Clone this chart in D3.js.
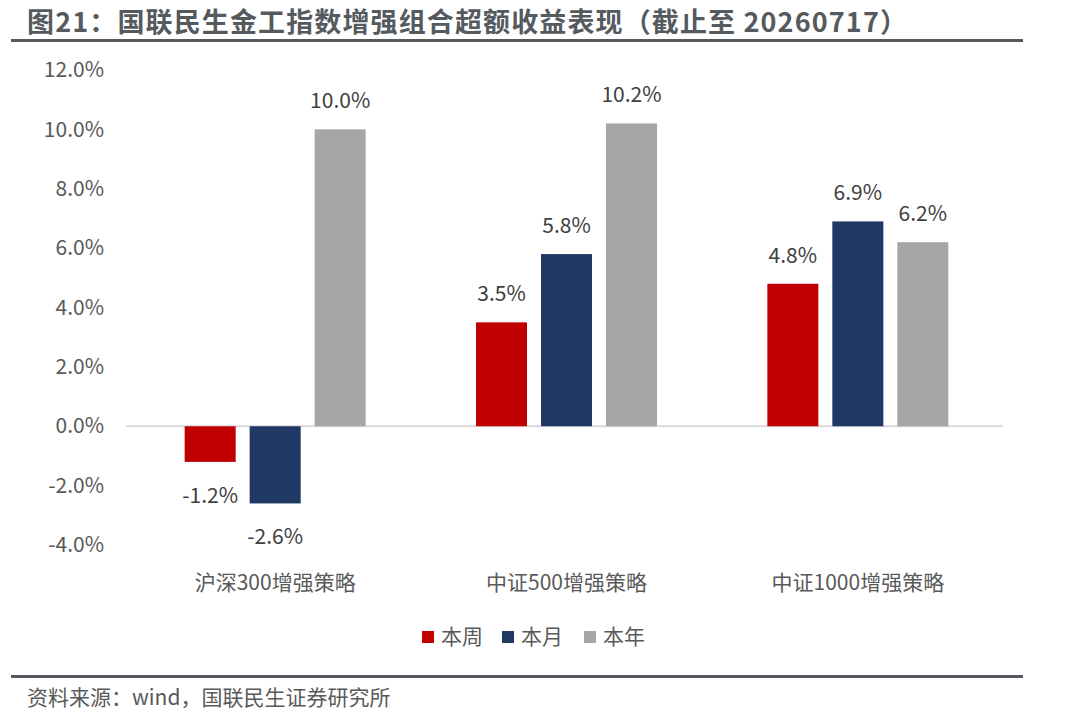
<!DOCTYPE html>
<html>
<head>
<meta charset="utf-8">
<script src="https://cdn.jsdelivr.net/npm/d3@7"></script>
<style>
  html, body { margin: 0; padding: 0; background: #fff; }
  svg text { font-family: "Noto Sans CJK SC", "Noto Sans", sans-serif; }
</style>
</head>
<body>
<div id="chart"></div>
<script>
// 数据
const categories = ['沪深300增强策略', '中证500增强策略', '中证1000增强策略']
const seriesNames = ['本周', '本月', '本年']
const seriesColors = ['#c00000', '#203864', '#a6a6a6']
const weekValues = [-1.2, 3.5, 4.8]
const monthValues = [-2.6, 5.8, 6.9]
const yearValues = [10.0, 10.2, 6.2]
const yTicks = [-4, -2, 0, 2, 4, 6, 8, 10, 12]

const WIDTH = 1080
const HEIGHT = 716

const seriesValues = [weekValues, monthValues, yearValues]

const svg = d3.select('#chart')
  .append('svg')
  .attr('width', WIDTH)
  .attr('height', HEIGHT)

// 标题
svg.append('text')
  .attr('x', 27)
  .attr('y', 32)
  .attr('font-size', 27)
  .attr('font-weight', 'bold')
  .attr('fill', '#555a5f')
  .attr('textLength', 880)
  .attr('lengthAdjust', 'spacing')
  .text('图21：国联民生金工指数增强组合超额收益表现（截止至 20260717）')

svg.append('rect')
  .attr('x', 11).attr('y', 39)
  .attr('width', 1012).attr('height', 3)
  .attr('fill', '#555a60')

// 比例尺
const y = d3.scaleLinear().domain([-4, 12]).range([545, 70])
const x0 = d3.scaleBand().domain(categories).range([129.5, 1003.5]).padding(0)
const groupW = 181
const x1 = d3.scaleBand().domain(seriesNames).range([0, groupW]).paddingInner(0.215)

// y轴标签
const yAxis = d3.axisLeft(y)
  .tickValues(yTicks)
  .tickFormat(d => d.toFixed(1) + '%')
  .tickSize(0)
  .tickPadding(0)

const gy = svg.append('g')
  .attr('transform', 'translate(104,0)')
  .call(yAxis)
gy.select('.domain').remove()
gy.selectAll('text')
  .attr('font-size', 21)
  .attr('fill', '#595959')
  .attr('font-family', '"Noto Sans CJK SC", "Noto Sans", sans-serif')

// 零线
svg.append('line')
  .attr('x1', 126).attr('x2', 1003)
  .attr('y1', y(0)).attr('y2', y(0))
  .attr('stroke', '#d9d9d9')
  .attr('stroke-width', 2)

// 柱子
const rows = []
categories.forEach((c, i) => {
  seriesNames.forEach((s, j) => {
    rows.push({ cat: c, series: s, value: seriesValues[j][i], color: seriesColors[j] })
  })
})

const offset = (x0.bandwidth() - groupW) / 2

const groups = svg.append('g')
  .selectAll('g')
  .data(rows)
  .enter()
  .append('g')
  .attr('transform', d => 'translate(' + (x0(d.cat) + offset + x1(d.series)) + ',0)')

groups.append('rect')
  .attr('x', 0)
  .attr('width', x1.bandwidth())
  .attr('y', d => Math.min(y(d.value), y(0)))
  .attr('height', d => Math.abs(y(d.value) - y(0)))
  .attr('fill', d => d.color)

groups.append('text')
  .attr('x', x1.bandwidth() / 2)
  .attr('y', d => d.value >= 0 ? y(d.value) - 21 : y(d.value) + 41)
  .attr('text-anchor', 'middle')
  .attr('font-size', 21)
  .attr('fill', '#404040')
  .text(d => d.value.toFixed(1) + '%')

// 分类标签
const xAxis = d3.axisBottom(x0).tickSize(0).tickPadding(0)
const gx = svg.append('g')
  .attr('transform', 'translate(0,575)')
  .call(xAxis)
gx.select('.domain').remove()
gx.selectAll('text')
  .attr('dy', 0)
  .attr('y', 15)
  .attr('font-size', 21)
  .attr('fill', '#595959')
  .attr('font-family', '"Noto Sans CJK SC", "Noto Sans", sans-serif')

// 图例
const legendX = [422, 502, 584]
const legend = svg.append('g')
  .selectAll('g')
  .data(seriesNames)
  .enter()
  .append('g')
  .attr('transform', (d, i) => 'translate(' + legendX[i] + ',631)')

legend.append('rect')
  .attr('width', 12).attr('height', 12)
  .attr('fill', (d, i) => seriesColors[i])

legend.append('text')
  .attr('x', 19)
  .attr('y', 13)
  .attr('font-size', 21)
  .attr('fill', '#595959')
  .text(d => d)

// 底部
svg.append('rect')
  .attr('x', 11).attr('y', 675)
  .attr('width', 1012).attr('height', 3)
  .attr('fill', '#555a60')

svg.append('text')
  .attr('x', 27)
  .attr('y', 705)
  .attr('font-size', 21)
  .attr('fill', '#595959')
  .text('资料来源：wind，国联民生证券研究所')
</script>
</body>
</html>
